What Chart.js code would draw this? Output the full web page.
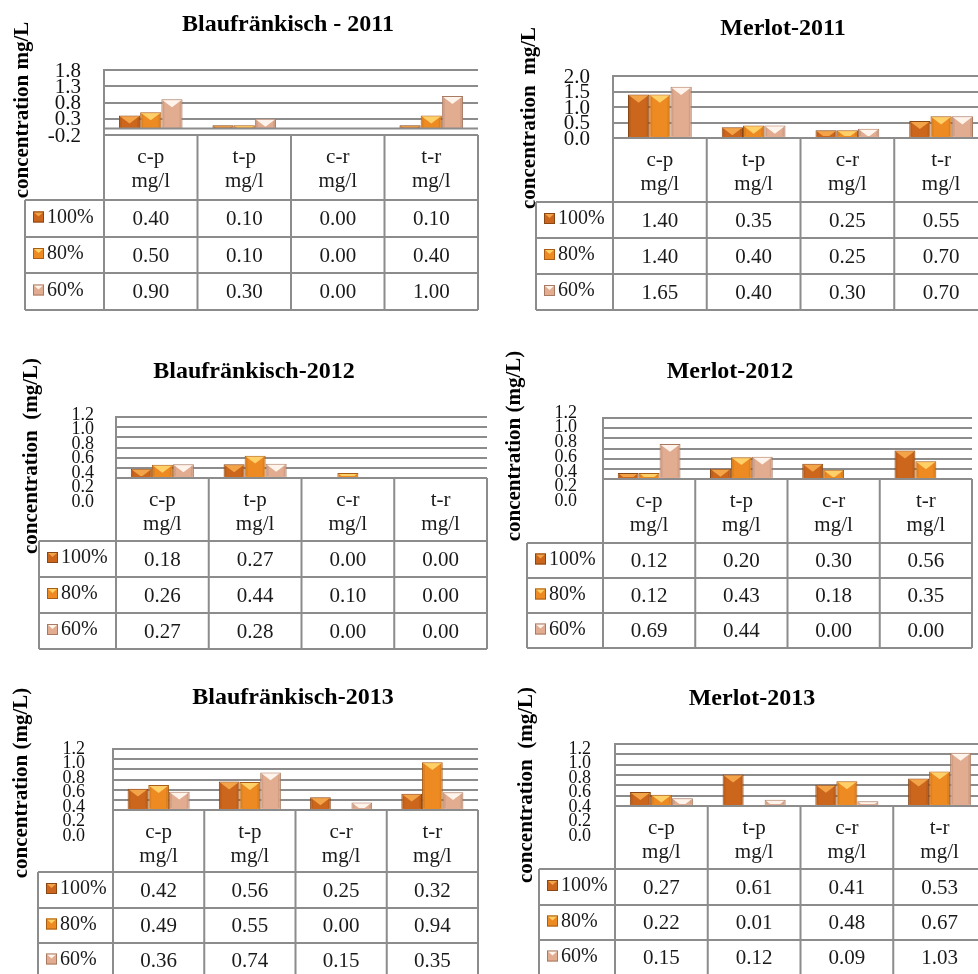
<!DOCTYPE html>
<html>
<head>
<meta charset="utf-8">
<script src="https://cdn.jsdelivr.net/npm/chart.js@4.4.1/dist/chart.umd.min.js"></script>
<style>
  html, body { margin: 0; padding: 0; background: #fff; overflow: hidden; width: 978px; height: 974px; }
  canvas { position: absolute; left: 0; top: 0; }
</style>
</head>
<body>
<canvas id="c0" width="1000" height="1000"></canvas>
<canvas id="c1" width="1000" height="1000"></canvas>
<canvas id="c2" width="1000" height="1000"></canvas>
<canvas id="c3" width="1000" height="1000"></canvas>
<canvas id="c4" width="1000" height="1000"></canvas>
<canvas id="c5" width="1000" height="1000"></canvas>
<script>
// categories and series names
const categories = [["c-p", "mg/l"], ["t-p", "mg/l"], ["c-r", "mg/l"], ["t-r", "mg/l"]];
const seriesNames = ["100%", "80%", "60%"];

// Blaufränkisch 2011
const blau2011_100 = [0.40, 0.10, 0.00, 0.10];
const blau2011_80 = [0.50, 0.10, 0.00, 0.40];
const blau2011_60 = [0.90, 0.30, 0.00, 1.00];
// Merlot 2011
const merlot2011_100 = [1.40, 0.35, 0.25, 0.55];
const merlot2011_80 = [1.40, 0.40, 0.25, 0.70];
const merlot2011_60 = [1.65, 0.40, 0.30, 0.70];
// Blaufränkisch 2012
const blau2012_100 = [0.18, 0.27, 0.00, 0.00];
const blau2012_80 = [0.26, 0.44, 0.10, 0.00];
const blau2012_60 = [0.27, 0.28, 0.00, 0.00];
// Merlot 2012
const merlot2012_100 = [0.12, 0.20, 0.30, 0.56];
const merlot2012_80 = [0.12, 0.43, 0.18, 0.35];
const merlot2012_60 = [0.69, 0.44, 0.00, 0.00];
// Blaufränkisch 2013
const blau2013_100 = [0.42, 0.56, 0.25, 0.32];
const blau2013_80 = [0.49, 0.55, 0.00, 0.94];
const blau2013_60 = [0.36, 0.74, 0.15, 0.35];
// Merlot 2013
const merlot2013_100 = [0.27, 0.61, 0.41, 0.53];
const merlot2013_80 = [0.22, 0.01, 0.48, 0.67];
const merlot2013_60 = [0.15, 0.12, 0.09, 1.03];

// tick labels
const ticksBlau2011 = [-0.2, 0.3, 0.8, 1.3, 1.8];
const ticksMerlot2011 = [0.0, 0.5, 1.0, 1.5, 2.0];
const ticksLater = [0.0, 0.2, 0.4, 0.6, 0.8, 1.0, 1.2];

// styles
const SERIF = '"Liberation Serif", "Times New Roman", serif';
const LINE = "#8c8c8c";
const barFill = ["#cc661c", "#ee8a22", "#e2ac90"];
const barHi = ["#f3a448", "#ffd068", "#fff4ec"];
const barEdge = ["#8a4716", "#a85c16", "#a87a62"];

const panels = [
  { title: "Blaufränkisch - 2011", yTitle: "concentration mg/L", series: [blau2011_100, blau2011_80, blau2011_60],
    ticks: ticksBlau2011, dec: 1,
    box: { l: 104, r: 478, t: 70, b: 135, head: 200, rows: [237, 273, 310], legL: 25,
      titleX: 288, titleY: 25, yTitleX: 23, yTitleY: 110, tickX: 81, tickFont: 21, spread: 1, tickOff: 1 } },
  { title: "Merlot-2011", yTitle: "concentration  mg/L", series: [merlot2011_100, merlot2011_80, merlot2011_60],
    ticks: ticksMerlot2011, dec: 1,
    box: { l: 613, r: 988, t: 76, b: 138, head: 202, rows: [238, 274, 310], legL: 536,
      titleX: 783, titleY: 29, yTitleX: 530, yTitleY: 118, tickX: 590, tickFont: 21, spread: 1, tickOff: 1 } },
  { title: "Blaufränkisch-2012", yTitle: "concentration  (mg/L)", series: [blau2012_100, blau2012_80, blau2012_60],
    ticks: ticksLater, dec: 1,
    box: { l: 116, r: 487, t: 417, b: 478, head: 541, rows: [577, 613, 649], legL: 39,
      titleX: 254, titleY: 372, yTitleX: 32, yTitleY: 456, tickX: 94, tickFont: 18, spread: 1.43, tickOff: -2 } },
  { title: "Merlot-2012", yTitle: "concentration (mg/L)", series: [merlot2012_100, merlot2012_80, merlot2012_60],
    ticks: ticksLater, dec: 1,
    box: { l: 603, r: 972, t: 418, b: 479, head: 543, rows: [578, 613, 648], legL: 527,
      titleX: 730, titleY: 372, yTitleX: 515, yTitleY: 446, tickX: 577, tickFont: 18, spread: 1.45, tickOff: -5 } },
  { title: "Blaufränkisch-2013", yTitle: "concentration (mg/L)", series: [blau2013_100, blau2013_80, blau2013_60],
    ticks: ticksLater, dec: 1,
    box: { l: 113, r: 478, t: 749, b: 810, head: 872, rows: [908, 943, 978], legL: 38,
      titleX: 293, titleY: 698, yTitleX: 22, yTitleY: 783, tickX: 85, tickFont: 18, spread: 1.43, tickOff: 0 } },
  { title: "Merlot-2013", yTitle: "concentration  (mg/L)", series: [merlot2013_100, merlot2013_80, merlot2013_60],
    ticks: ticksLater, dec: 1,
    box: { l: 615, r: 986, t: 744, b: 806, head: 869, rows: [905, 940, 975], legL: 539,
      titleX: 752, titleY: 699, yTitleX: 527, yTitleY: 785, tickX: 591, tickFont: 18, spread: 1.40, tickOff: 5 } }
];

// light top bevel on each bar, like the Excel 3D style
const bevelPlugin = {
  id: "bevel",
  afterDatasetsDraw(chart) {
    const c = chart.ctx;
    chart.data.datasets.forEach((ds, di) => {
      chart.getDatasetMeta(di).data.forEach(el => {
        const { x, y, base, width } = el.getProps(["x", "y", "base", "width"], true);
        const top = Math.min(y, base);
        const h = Math.abs(base - y);
        if (h < 1) return;
        const l = x - width / 2, r = x + width / 2;
        const d = width * 0.38;
        c.save();
        c.beginPath();
        c.rect(l + 1, top + 1, width - 2, h - 2);
        c.clip();
        c.fillStyle = "rgba(0,0,0,0.07)";
        c.fillRect(l, top, 3, h);
        c.fillRect(r - 3, top, 3, h);
        c.fillStyle = barHi[di];
        c.beginPath();
        c.moveTo(l, top); c.lineTo(r, top); c.lineTo(x, top + d); c.closePath();
        c.fill();
        c.restore();
      });
    });
  }
};

function drawSwatch(c, x, y, i) {
  c.fillStyle = barFill[i];
  c.fillRect(x, y, 11, 11);
  c.fillStyle = barHi[i];
  c.beginPath();
  c.moveTo(x, y); c.lineTo(x + 11, y); c.lineTo(x + 5.5, y + 5); c.closePath();
  c.fill();
  c.strokeStyle = barEdge[i];
  c.lineWidth = 1;
  c.strokeRect(x + 0.5, y + 0.5, 10, 10);
}

// title, axis title, tick labels and the data table under the plot
const panelPlugin = {
  id: "panel",
  afterDraw(chart) {
    const p = chart.options.plugins.panel;
    const box = p.box;
    const c = chart.ctx;
    const area = chart.chartArea;
    const ys = chart.scales.y;
    const xs = chart.scales.x;
    c.save();

    // zero line when the axis goes below zero
    if (ys.min < 0) {
      const zy = ys.getPixelForValue(0);
      c.strokeStyle = LINE; c.lineWidth = 2;
      c.beginPath(); c.moveTo(area.left, zy); c.lineTo(area.right, zy); c.stroke();
    }

    // chart title
    c.fillStyle = "#000";
    c.textAlign = "center"; c.textBaseline = "middle";
    c.font = "bold 24px " + SERIF;
    c.fillText(p.title, box.titleX, box.titleY);

    // y axis title
    c.save();
    c.translate(box.yTitleX, box.yTitleY);
    c.rotate(-Math.PI / 2);
    c.font = "bold 21px " + SERIF;
    c.fillText(p.yTitle, 0, 0);
    c.restore();

    // tick labels
    c.font = box.tickFont + "px " + SERIF;
    c.textAlign = "right";
    c.fillStyle = "#111";
    ys.ticks.forEach(t => {
      const py = ys.getPixelForValue(t.value);
      const ly = area.top + box.tickOff + (py - area.top) * box.spread;
      c.fillText(t.value.toFixed(p.dec), box.tickX, ly);
    });

    // table grid
    const n = chart.data.labels.length;
    const cw = (area.right - area.left) / n;
    const edges = [];
    for (let i = 0; i <= n; i++) edges.push(area.left + i * cw);
    const last = box.rows[box.rows.length - 1];
    c.strokeStyle = LINE; c.lineWidth = 2;
    c.beginPath();
    edges.forEach(ex => { c.moveTo(ex, area.bottom); c.lineTo(ex, last); });
    c.moveTo(box.legL, box.head); c.lineTo(box.legL, last);
    c.moveTo(area.left, area.bottom); c.lineTo(area.right, area.bottom);
    c.moveTo(box.legL, box.head); c.lineTo(area.right, box.head);
    box.rows.forEach(ry => { c.moveTo(box.legL, ry); c.lineTo(area.right, ry); });
    c.stroke();

    // header labels
    c.font = "21px " + SERIF;
    c.textAlign = "center";
    c.fillStyle = "#1a1a1a";
    chart.data.labels.forEach((lab, i) => {
      const cx = xs.getPixelForValue(i);
      c.fillText(lab[0], cx, area.bottom + 22);
      c.fillText(lab[1], cx, area.bottom + 46);
    });

    // rows
    let prev = box.head;
    chart.data.datasets.forEach((ds, di) => {
      const ry = box.rows[di];
      const mid = (prev + ry) / 2;
      drawSwatch(c, box.legL + 8, mid - 7, di);
      c.textAlign = "left";
      c.fillStyle = "#1a1a1a";
      c.font = "20px " + SERIF;
      c.fillText(ds.label, box.legL + 22, mid - 1);
      c.textAlign = "center";
      c.font = "21px " + SERIF;
      ds.data.forEach((v, i) => {
        c.fillText(v.toFixed(2), xs.getPixelForValue(i), mid + 1);
      });
      prev = ry;
    });
    c.restore();
  }
};

panels.forEach((p, k) => {
  const box = p.box;
  const ctx = document.getElementById("c" + k);
  new Chart(ctx, {
    type: "bar",
    data: {
      labels: categories,
      datasets: seriesNames.map((name, i) => ({
        label: name,
        data: p.series[i],
        backgroundColor: barFill[i],
        borderColor: barEdge[i],
        borderWidth: 1,
        categoryPercentage: 0.68,
        barPercentage: 1.0
      }))
    },
    options: {
      responsive: false,
      animation: false,
      events: [],
      layout: { padding: { left: box.l - 2, top: box.t, right: 1000 - box.r, bottom: 1000 - box.b } },
      plugins: {
        legend: { display: false },
        tooltip: { enabled: false },
        panel: { box, title: p.title, yTitle: p.yTitle, dec: p.dec }
      },
      scales: {
        x: { display: false, offset: true },
        y: {
          min: p.ticks[0],
          max: p.ticks[p.ticks.length - 1],
          afterFit: s => { s.width = 2; },
          afterBuildTicks: s => { s.ticks = p.ticks.map(v => ({ value: v })); },
          ticks: { display: false },
          grid: { color: LINE, lineWidth: 2, drawTicks: false },
          border: { display: true, color: LINE, width: 2 }
        }
      }
    },
    plugins: [bevelPlugin, panelPlugin]
  });
});
</script>
</body>
</html>
